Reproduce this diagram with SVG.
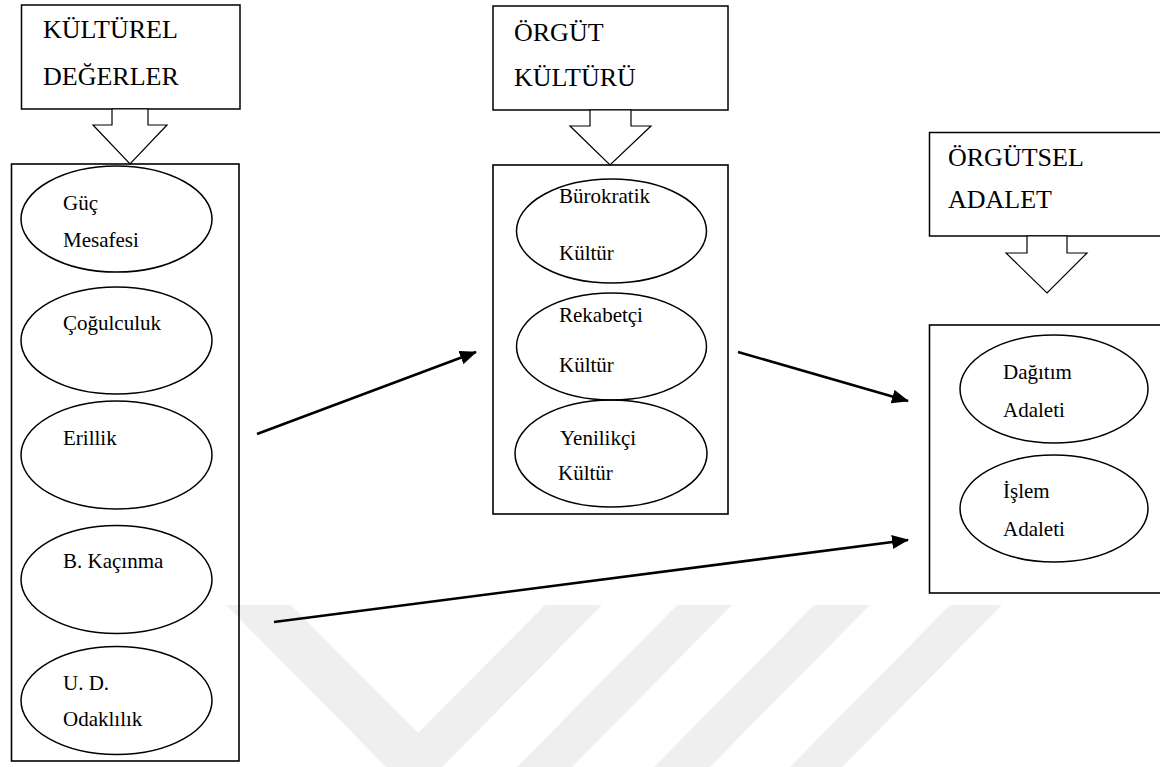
<svg xmlns="http://www.w3.org/2000/svg" width="1160" height="767" viewBox="0 0 1160 767">
<style>
  .box{fill:#fff;stroke:#000;stroke-width:1.5}
  .cont{fill:none;stroke:#000;stroke-width:1.6}
  .ell{fill:none;stroke:#000;stroke-width:1.5}
  .blk{fill:#fff;stroke:#000;stroke-width:1.2;stroke-linejoin:miter}
  .t{font-family:"Liberation Serif","Times New Roman",serif;font-size:26px;fill:#000}
  .e{font-family:"Liberation Serif","Times New Roman",serif;font-size:21px;fill:#000}
  .wm{fill:#efefef}
  .con{stroke:#000;stroke-width:2.6;fill:none}
</style>
<defs>
  <marker id="ah" markerUnits="userSpaceOnUse" markerWidth="18" markerHeight="14" refX="16" refY="7" orient="auto">
    <path d="M0,0 L17,7 L0,14 Z" fill="#000"/>
  </marker>
</defs>
<rect width="1160" height="767" fill="#fff"/>
<g id="watermark">
  <polygon class="wm" points="226,605 291,605 418,733 545,605 602,605 442,767 386,767"/>
  <polygon class="wm" points="677,605 732,605 572,767 517,767"/>
  <polygon class="wm" points="814,605 870,605 710,767 654,767"/>
  <polygon class="wm" points="950,605 1002,605 842,767 790,767"/>
</g>

<g id="kulturel-degerler">
  <rect class="box" x="21.5" y="5" width="218.5" height="104"/>
  <text class="t" x="43" y="38">KÜLTÜREL</text>
  <text class="t" x="43" y="85">DEĞERLER</text>
  <polygon class="blk" points="112,109 112,125 93,125 130,164 167,125 148,125 148,109"/>
</g>
<g id="kulturel-degerler-liste">
  <rect class="cont" x="11.5" y="164" width="227.5" height="597"/>
</g>
<g id="guc-mesafesi">
  <ellipse class="ell" cx="116.5" cy="219" rx="95.5" ry="53"/>
  <text class="e" x="63" y="210">Güç</text>
  <text class="e" x="63" y="247">Mesafesi</text>
</g>
<g id="cogulculuk">
  <ellipse class="ell" cx="116.5" cy="340.5" rx="95.5" ry="53.5"/>
  <text class="e" x="63" y="330">Çoğulculuk</text>
</g>
<g id="erillik">
  <ellipse class="ell" cx="116.5" cy="455" rx="95.5" ry="54"/>
  <text class="e" x="63" y="445">Erillik</text>
</g>
<g id="b-kacinma">
  <ellipse class="ell" cx="116.5" cy="579.5" rx="95.5" ry="54"/>
  <text class="e" x="63" y="568">B. Kaçınma</text>
</g>
<g id="ud-odaklilik">
  <ellipse class="ell" cx="116.5" cy="700.5" rx="95.5" ry="54"/>
  <text class="e" x="63" y="690">U. D.</text>
  <text class="e" x="63" y="726">Odaklılık</text>
</g>

<g id="orgut-kulturu">
  <rect class="box" x="493" y="6" width="235" height="104"/>
  <text class="t" x="514" y="41">ÖRGÜT</text>
  <text class="t" x="514" y="86">KÜLTÜRÜ</text>
  <polygon class="blk" points="590,110 590,126 570,126 610,165 651,126 631,126 631,110"/>
</g>
<g id="orgut-kulturu-liste">
  <rect class="cont" x="493" y="165" width="235" height="349"/>
</g>
<g id="burokratik">
  <ellipse class="ell" cx="611.5" cy="231" rx="95" ry="52"/>
  <text class="e" x="559" y="203">Bürokratik</text>
  <text class="e" x="559" y="260">Kültür</text>
</g>
<g id="rekabetci">
  <ellipse class="ell" cx="611.5" cy="346.5" rx="95" ry="53.5"/>
  <text class="e" x="559" y="322">Rekabetçi</text>
  <text class="e" x="559" y="372">Kültür</text>
</g>
<g id="yenilikci">
  <ellipse class="ell" cx="611" cy="453.5" rx="96" ry="53.5"/>
  <text class="e" x="560" y="445">Yenilikçi</text>
  <text class="e" x="558" y="480">Kültür</text>
</g>

<g id="orgutsel-adalet">
  <rect class="box" x="929.5" y="132.5" width="235" height="103.5"/>
  <text class="t" x="948" y="166">ÖRGÜTSEL</text>
  <text class="t" x="948" y="208">ADALET</text>
  <polygon class="blk" points="1027,236 1027,253 1006,253 1047,293 1087,253 1067,253 1067,236"/>
</g>
<g id="orgutsel-adalet-liste">
  <rect class="cont" x="929.5" y="325" width="235" height="268"/>
</g>
<g id="dagitim-adaleti">
  <ellipse class="ell" cx="1054" cy="389" rx="94" ry="54"/>
  <text class="e" x="1003" y="379">Dağıtım</text>
  <text class="e" x="1003" y="417">Adaleti</text>
</g>
<g id="islem-adaleti">
  <ellipse class="ell" cx="1054" cy="508.5" rx="94" ry="53.5"/>
  <text class="e" x="1003" y="498">İşlem</text>
  <text class="e" x="1003" y="536">Adaleti</text>
</g>

<g id="connectors">
  <line class="con" x1="257" y1="434" x2="476" y2="352" marker-end="url(#ah)"/>
  <line class="con" x1="738" y1="352" x2="908" y2="401" marker-end="url(#ah)"/>
  <line class="con" x1="274" y1="622" x2="908" y2="540" marker-end="url(#ah)"/>
</g>
</svg>
